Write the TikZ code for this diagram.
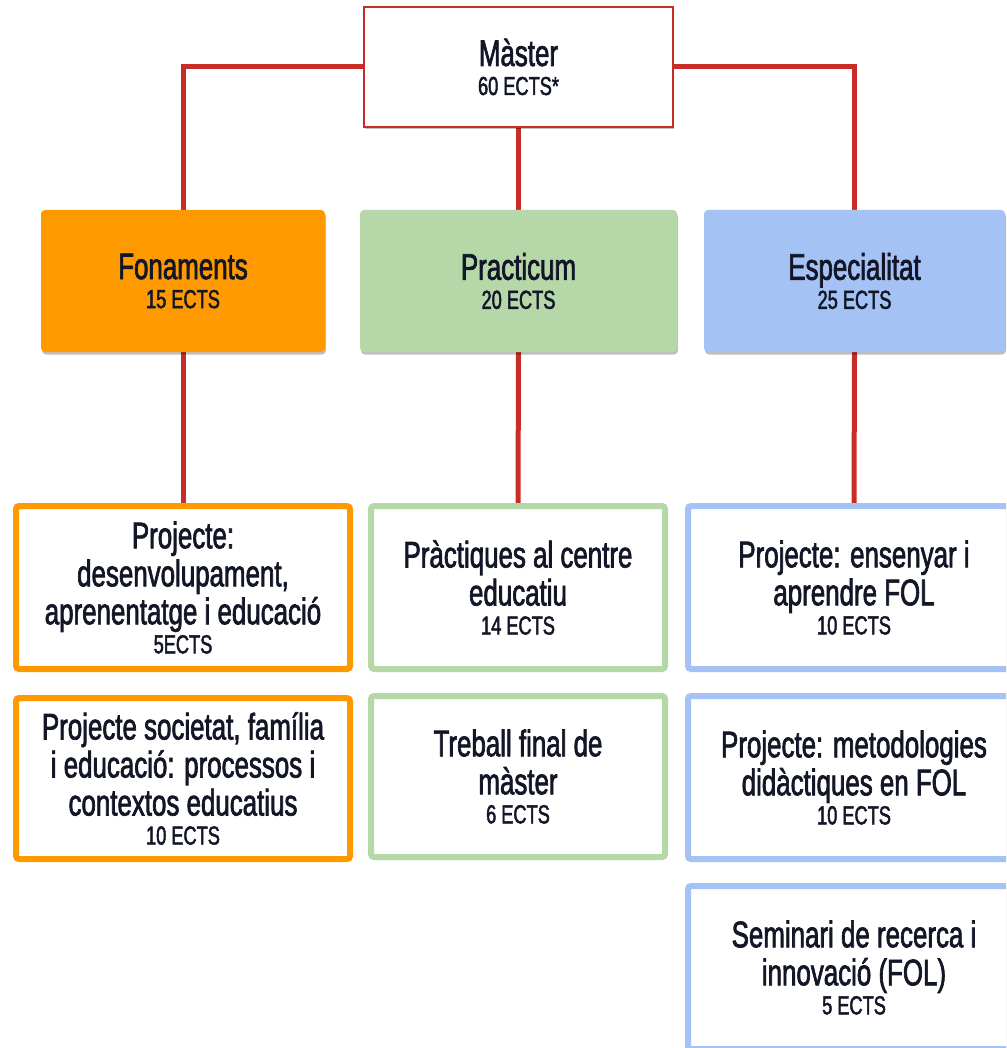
\documentclass[tikz,border=0pt]{standalone}
\usepackage{fontspec}
\setmainfont{Liberation Sans}[FakeStretch=0.7,FakeBold=1.8]
\usetikzlibrary{shadows,backgrounds}
\definecolor{connred}{RGB}{200,45,40}
\definecolor{txtc}{RGB}{18,22,38}
\definecolor{orangec}{RGB}{255,153,0}
\definecolor{greenc}{RGB}{182,215,168}
\definecolor{bluec}{RGB}{164,194,244}
\newcommand\ectsline[1]{\\[-9pt]{\fontsize{26}{30}\selectfont #1}}
\tikzset{
  shade/.style={drop shadow={shadow xshift=1pt,shadow yshift=-2.5pt,opacity=0.25,fill=black}},
  bigtext/.style={font=\fontsize{37}{38}\selectfont, text=txtc, align=center, inner sep=0pt},
  headbox/.style={bigtext, fill=#1, rounded corners=4pt, shade},
  topbox/.style={bigtext, fill=white, draw=connred, line width=1.2pt, shade},
  subbox/.style={bigtext, fill=white, draw=#1, line width=6pt, rounded corners=3pt, shade},
  connline/.style={draw=connred, line width=5pt}
}
\begin{document}
\begin{tikzpicture}[x=1pt,y=-1pt]
\useasboundingbox (0,0) rectangle (1006,1048);
\clip (0,0) rectangle (1006,1048);

\node[topbox, minimum width=309pt, minimum height=120pt] (master) at (518.5,67)
  {Màster\ectsline{60 ECTS*}};

\node[headbox=orangec, minimum width=284pt, minimum height=142pt] (fon) at (183,281)
  {Fonaments\ectsline{15 ECTS}};
\node[headbox=greenc, minimum width=317pt, minimum height=142pt] (prac) at (518.5,281)
  {Practicum\ectsline{20 ECTS}};
\node[headbox=bluec, minimum width=301pt, minimum height=142pt] (esp) at (854.5,281)
  {Especialitat\ectsline{25 ECTS}};

\node[subbox=orangec, minimum width=334pt, minimum height=163pt] (f1) at (183,587.5)
  {Projecte:\\desenvolupament,\\aprenentatge i educació\ectsline{5ECTS}};
\node[subbox=orangec, minimum width=334pt, minimum height=161pt] (f2) at (183,778.5)
  {Projecte societat, família\\i educació: processos i\\contextos educatius\ectsline{10 ECTS}};

\node[subbox=greenc, minimum width=294pt, minimum height=163pt] (p1) at (518,587.5)
  {Pràctiques al centre\\educatiu\ectsline{14 ECTS}};
\node[subbox=greenc, minimum width=294pt, minimum height=161pt] (p2) at (518,776.5)
  {Treball final de\\màster\ectsline{6 ECTS}};

\node[subbox=bluec, minimum width=332pt, minimum height=163pt] (e1) at (854,587.5)
  {Projecte: ensenyar i\\aprendre FOL\ectsline{10 ECTS}};
\node[subbox=bluec, minimum width=332pt, minimum height=163pt] (e2) at (854,777.5)
  {Projecte: metodologies\\didàctiques en FOL\ectsline{10 ECTS}};
\node[subbox=bluec, minimum width=332pt, minimum height=163pt] (e3) at (854,967.5)
  {Seminari de recerca i\\innovació (FOL)\ectsline{5 ECTS}};

\begin{pgfonlayer}{background}
  \fill[white] (0,0) rectangle (1006,1048);
  \draw[connline] (master.west) -| (fon.north);
  \draw[connline] (master.east) -| (esp.north);
  \draw[connline] (master.south) -- (prac.north);
  \draw[connline] (fon.south) -- (f1.north);
  \draw[connline] (prac.south) -- (p1.north);
  \draw[connline] (esp.south) -- (e1.north);
\end{pgfonlayer}
\end{tikzpicture}
\end{document}
